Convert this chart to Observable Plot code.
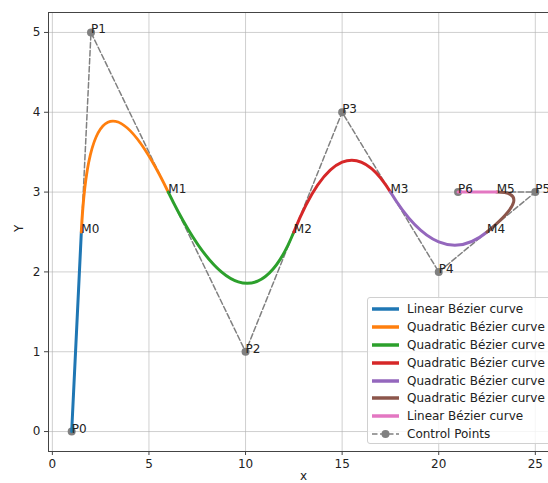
<!DOCTYPE html>
<html>
<head>
<meta charset="utf-8">
<script src="https://cdn.jsdelivr.net/npm/d3@7"></script>
<script src="https://cdn.jsdelivr.net/npm/@observablehq/plot@0.6"></script>
<style>
  body { margin: 0; background: #fff; }
  #wrap { position: relative; width: 548px; height: 483px; overflow: hidden; font-family: "DejaVu Sans", sans-serif; }
  #chart svg { max-width: none !important; }
  #legend { position: absolute; left: 367px; top: 297px; width: 200px; height: 147px; box-sizing: border-box;
    border: 1px solid #d0d0d0; border-radius: 3px; background: rgba(255,255,255,0.8); font-size: 12px; color: #222; padding-top: 2px; }
  .row { display: flex; align-items: center; height: 17.9px; }
  .row svg { margin-left: 4px; margin-right: 8px; }
</style>
</head>
<body>
<div id="wrap"><div id="chart"></div><div id="legend"></div></div>
<script>
// Control points
const pointLabels = ["P0", "P1", "P2", "P3", "P4", "P5", "P6"];
const pointX = [1, 2, 10, 15, 20, 25, 21];
const pointY = [0, 5, 1, 4, 2, 3, 3];
// Midpoints joining the segments
const midLabels = ["M0", "M1", "M2", "M3", "M4", "M5"];
const midX = [1.5, 6, 12.5, 17.5, 22.5, 23];
const midY = [2.5, 3, 2.5, 3, 2.5, 3];
// Segments: names, colours, and the control points (by label) of each
const segmentNames = ["Linear Bézier curve", "Quadratic Bézier curve", "Quadratic Bézier curve",
  "Quadratic Bézier curve", "Quadratic Bézier curve", "Quadratic Bézier curve", "Linear Bézier curve"];
const segmentColors = ["#1f77b4", "#ff7f0e", "#2ca02c", "#d62728", "#9467bd", "#8c564b", "#e377c2"];
const segmentPoints = [["P0", "M0"], ["M0", "P1", "M1"], ["M1", "P2", "M2"], ["M2", "P3", "M3"],
  ["M3", "P4", "M4"], ["M4", "P5", "M5"], ["M5", "P6"]];
const xTicks = [0, 5, 10, 15, 20, 25];
const yTicks = [0, 1, 2, 3, 4, 5];

const lookup = new Map();
pointLabels.forEach((l, i) => lookup.set(l, {x: pointX[i], y: pointY[i]}));
midLabels.forEach((l, i) => lookup.set(l, {x: midX[i], y: midY[i]}));
const points = pointLabels.map((l, i) => ({label: l, x: pointX[i], y: pointY[i]}));
const mids = midLabels.map((l, i) => ({label: l, x: midX[i], y: midY[i]}));
const segRows = segmentPoints.flatMap((pts, s) => pts.map(l => ({seg: s, ...lookup.get(l)})));

// Curve factory: quadratic Bézier through 3 control points, straight line otherwise
function Bez(context) { this._c = context; }
Bez.prototype = {
  areaStart() {}, areaEnd() {},
  lineStart() { this._p = []; },
  point(x, y) { this._p.push([+x, +y]); },
  lineEnd() {
    const p = this._p, c = this._c;
    if (!p.length) return;
    c.moveTo(p[0][0], p[0][1]);
    if (p.length === 3) c.quadraticCurveTo(p[1][0], p[1][1], p[2][0], p[2][1]);
    else for (let i = 1; i < p.length; i++) c.lineTo(p[i][0], p[i][1]);
  }
};
const bezier = ctx => new Bez(ctx);

const plot = Plot.plot({
  width: 558, height: 483,
  marginLeft: 48, marginRight: 0, marginTop: 12, marginBottom: 32,
  style: {fontFamily: "DejaVu Sans, sans-serif", fontSize: "12px", color: "#222", background: "transparent"},
  x: {domain: [-0.2, 26.2], ticks: xTicks},
  y: {domain: [-0.25, 5.25], ticks: yTicks},
  marks: [
    Plot.gridX(xTicks, {stroke: "#b0b0b0", strokeOpacity: 0.6, strokeWidth: 1}),
    Plot.gridY(yTicks, {stroke: "#b0b0b0", strokeOpacity: 0.6, strokeWidth: 1}),
    Plot.frame({stroke: "#444", strokeWidth: 1}),
    Plot.axisX(xTicks, {tickSize: 4, tickPadding: 4, label: null, stroke: "#444", fontSize: 12, tickFormat: "d"}),
    Plot.axisY(yTicks, {tickSize: 4, tickPadding: 4, label: null, stroke: "#444", fontSize: 12, tickFormat: "d"}),
    Plot.text(["x"], {frameAnchor: "bottom", dy: 28, fontSize: 12}),
    Plot.text(["Y"], {frameAnchor: "left", dx: -29, rotate: -90, fontSize: 12}),
    Plot.line(points, {x: "x", y: "y", stroke: "#808080", strokeWidth: 1.5, strokeDasharray: "5.5,2.5"}),
    Plot.dot(points, {x: "x", y: "y", r: 4, fill: "#808080"}),
    ...segmentPoints.map((_, s) => Plot.line(segRows.filter(d => d.seg === s),
      {x: "x", y: "y", stroke: segmentColors[s], strokeWidth: 3, curve: bezier})),
    Plot.text(points, {x: "x", y: "y", text: "label", textAnchor: "start", lineAnchor: "bottom", dy: 1, fontSize: 12, fill: "#222"}),
    Plot.text(mids, {x: "x", y: "y", text: "label", textAnchor: "start", lineAnchor: "bottom", dy: 1, fontSize: 12, fill: "#222"})
  ]
});
document.getElementById("chart").appendChild(plot);

// Legend
const leg = document.getElementById("legend");
segmentNames.forEach((name, i) => {
  const r = document.createElement("div");
  r.className = "row";
  r.innerHTML = `<svg width="27" height="6"><line x1="0" x2="27" y1="3" y2="3" stroke="${segmentColors[i]}" stroke-width="3.5"/></svg><span>${name}</span>`;
  leg.appendChild(r);
});
const r = document.createElement("div");
r.className = "row";
r.innerHTML = `<svg width="27" height="10"><line x1="0" x2="27" y1="5" y2="5" stroke="#808080" stroke-width="1.5" stroke-dasharray="5.5,2.5"/><circle cx="13.5" cy="5" r="4" fill="#808080"/></svg><span>Control Points</span>`;
leg.appendChild(r);
</script>
</body>
</html>
